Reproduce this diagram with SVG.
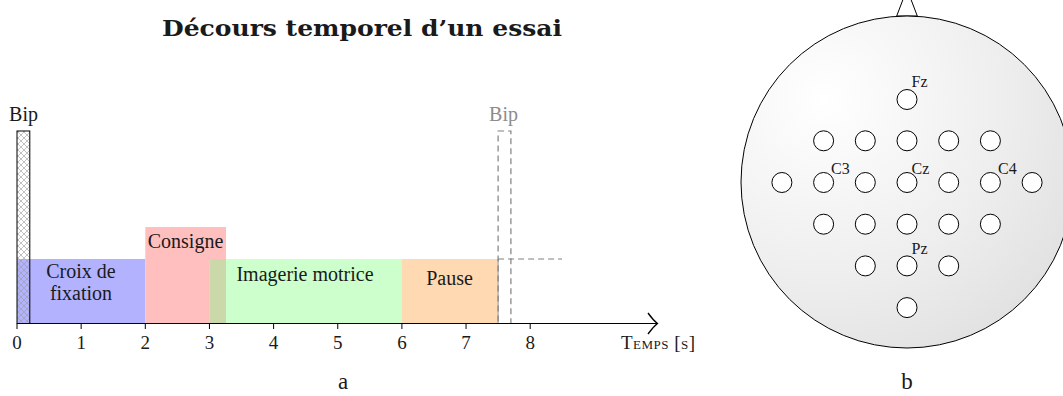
<svg xmlns="http://www.w3.org/2000/svg" width="1063" height="396" viewBox="0 0 1063 396">
<defs>
<pattern id="hatch" patternUnits="userSpaceOnUse" width="6" height="6">
<path d="M0,0 L6,6 M6,0 L0,6" stroke="#999" stroke-width="0.6" fill="none"/>
</pattern>
<radialGradient id="headg" cx="0.25" cy="0.25" r="0.9">
<stop offset="0" stop-color="#ffffff"/>
<stop offset="0.6" stop-color="#eeeeee"/>
<stop offset="1" stop-color="#e0e0e0"/>
</radialGradient>
<style>
text{font-family:"Liberation Serif","DejaVu Serif",serif;fill:#1a1a1a}
.lbl{font-size:20px;text-anchor:middle}
.tick{font-size:19px;text-anchor:middle}
.el{fill:#fff;stroke:#000;stroke-width:1}
.elab{font-size:16px}
.dash{fill:none;stroke:#808080;stroke-width:1.2;stroke-dasharray:6,4}
</style>
</defs>
<rect width="1063" height="396" fill="#fff"/>

<text x="362" y="36" style="font-family:'DejaVu Serif','Liberation Serif',serif;font-size:22px;font-weight:bold" text-anchor="middle" textLength="400" lengthAdjust="spacingAndGlyphs">Décours temporel d’un essai</text>

<g id="fixation">
<rect x="17" y="259" width="128.3" height="64.5" fill="#0000ff" fill-opacity="0.3"/>
<text class="lbl" x="81" y="278">Croix de</text>
<text class="lbl" x="81" y="300">fixation</text>
</g>
<g id="consigne">
<rect x="145.3" y="227" width="80.7" height="96.5" fill="#ffbfbf"/>
<text class="lbl" x="185.5" y="248">Consigne</text>
</g>
<g id="imagerie">
<rect x="209.45" y="259" width="192.45" height="64.5" fill="#ccffcc"/>
<rect x="209.45" y="259" width="16.55" height="64.5" fill="#cbd8aa"/>
<text class="lbl" x="305" y="281">Imagerie motrice</text>
</g>
<g id="pause">
<rect x="401.9" y="259" width="96.2" height="64.5" fill="#ff8000" fill-opacity="0.3"/>
<line x1="498.1" y1="259" x2="498.1" y2="323.5" stroke="#999" stroke-width="1"/>
<text class="lbl" x="449.5" y="285">Pause</text>
</g>
<g id="bip1">
<rect x="17" y="131" width="12.8" height="192.5" fill="url(#hatch)" stroke="#000" stroke-width="1"/>
<text class="lbl" x="23.5" y="121">Bip</text>
</g>
<g id="bip2">
<rect x="498.1" y="131" width="12.8" height="192.5" class="dash"/>
<line x1="498.1" y1="259" x2="562" y2="259" class="dash"/>
<text class="lbl" x="503.5" y="121" style="fill:#8c8c8c">Bip</text>
</g>

<g id="axis">
<line x1="17" y1="323.5" x2="657" y2="323.5" stroke="#000" stroke-width="1.2"/>
<path d="M648,313 Q653,320 657.5,323.5 Q653,327 648,334" fill="none" stroke="#000" stroke-width="1.3"/>
<g stroke="#000" stroke-width="1">
<line x1="17" y1="323.5" x2="17" y2="329"/>
<line x1="81.15" y1="323.5" x2="81.15" y2="329"/>
<line x1="145.3" y1="323.5" x2="145.3" y2="329"/>
<line x1="209.45" y1="323.5" x2="209.45" y2="329"/>
<line x1="273.6" y1="323.5" x2="273.6" y2="329"/>
<line x1="337.75" y1="323.5" x2="337.75" y2="329"/>
<line x1="401.9" y1="323.5" x2="401.9" y2="329"/>
<line x1="466.05" y1="323.5" x2="466.05" y2="329"/>
<line x1="530.2" y1="323.5" x2="530.2" y2="329"/>
</g>
<text class="tick" x="17" y="349">0</text>
<text class="tick" x="81.15" y="349">1</text>
<text class="tick" x="145.3" y="349">2</text>
<text class="tick" x="209.45" y="349">3</text>
<text class="tick" x="273.6" y="349">4</text>
<text class="tick" x="337.75" y="349">5</text>
<text class="tick" x="401.9" y="349">6</text>
<text class="tick" x="466.05" y="349">7</text>
<text class="tick" x="530.2" y="349">8</text>
<text x="695" y="349" font-size="19" text-anchor="end" font-variant="small-caps" textLength="74" lengthAdjust="spacing">Temps [s]</text>
</g>

<text class="lbl" x="343" y="389" style="font-size:23px">a</text>

<g id="head">
<path d="M896.7,16 L907,-11 L917.3,16 Z" fill="#fff" stroke="#000" stroke-width="1"/>
<circle cx="907" cy="182" r="166" fill="url(#headg)" stroke="#000" stroke-width="1"/>
</g>
<g id="electrodes">
<circle class="el" cx="907" cy="99.5" r="10"/>
<circle class="el" cx="823.6" cy="140.8" r="10"/>
<circle class="el" cx="865.3" cy="140.8" r="10"/>
<circle class="el" cx="907" cy="140.8" r="10"/>
<circle class="el" cx="948.7" cy="140.8" r="10"/>
<circle class="el" cx="990.4" cy="140.8" r="10"/>
<circle class="el" cx="781.9" cy="182.5" r="10"/>
<circle class="el" cx="823.6" cy="182.5" r="10"/>
<circle class="el" cx="865.3" cy="182.5" r="10"/>
<circle class="el" cx="907" cy="182.5" r="10"/>
<circle class="el" cx="948.7" cy="182.5" r="10"/>
<circle class="el" cx="990.4" cy="182.5" r="10"/>
<circle class="el" cx="1032.1" cy="182.5" r="10"/>
<circle class="el" cx="823.6" cy="224.2" r="10"/>
<circle class="el" cx="865.3" cy="224.2" r="10"/>
<circle class="el" cx="907" cy="224.2" r="10"/>
<circle class="el" cx="948.7" cy="224.2" r="10"/>
<circle class="el" cx="990.4" cy="224.2" r="10"/>
<circle class="el" cx="865.3" cy="265.9" r="10"/>
<circle class="el" cx="907" cy="265.9" r="10"/>
<circle class="el" cx="948.7" cy="265.9" r="10"/>
<circle class="el" cx="907" cy="307.6" r="10"/>
<text class="elab" x="911.5" y="86.5">Fz</text>
<text class="elab" x="831" y="173.5">C3</text>
<text class="elab" x="911.5" y="173.5">Cz</text>
<text class="elab" x="998" y="173.5">C4</text>
<text class="elab" x="911.5" y="253.5">Pz</text>
</g>

<text class="lbl" x="907" y="389" style="font-size:23px">b</text>
</svg>
